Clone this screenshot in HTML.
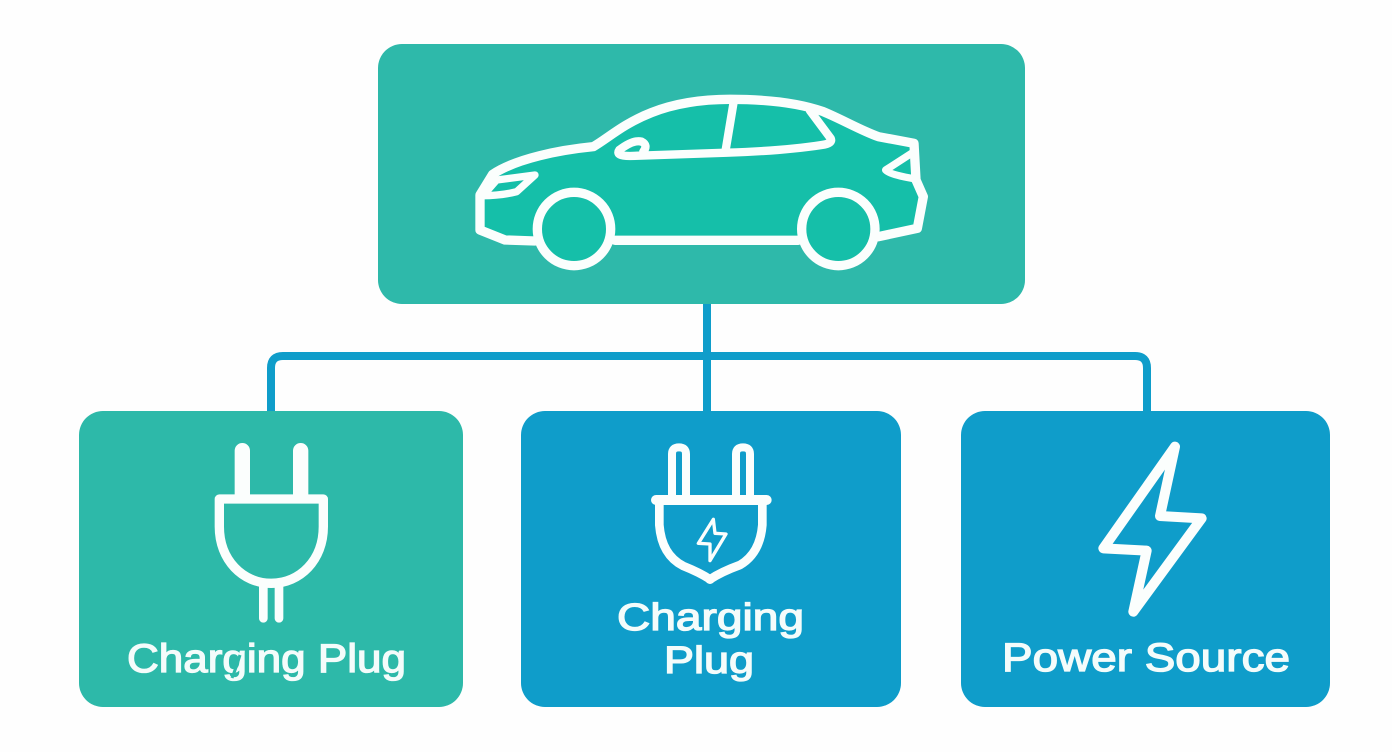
<!DOCTYPE html>
<html><head><meta charset="utf-8"><title>EV charging diagram</title>
<style>html,body{margin:0;padding:0;background:#fefefe}svg{display:block}text{font-family:"Liberation Sans",sans-serif;font-weight:400;fill:#f4fcfb;stroke:#f4fcfb;stroke-width:1.3px}</style>
</head><body>
<svg width="1392" height="752" viewBox="0 0 1392 752" xmlns="http://www.w3.org/2000/svg">
<rect width="1392" height="752" fill="#fefefe"/>
<g fill="none" stroke="#0f9dca" stroke-width="8">
<path d="M707 304V411"/>
<path d="M271 411V368Q271 356 283 356H1135Q1147 356 1147 368V411"/>
</g>
<rect x="378" y="44" width="647" height="260" rx="24" fill="#2eb9aa"/>
<rect x="79" y="411" width="384" height="296" rx="24" fill="#2db9a9"/>
<rect x="521" y="411" width="380" height="296" rx="24" fill="#0f9dca"/>
<rect x="961" y="411" width="369" height="296" rx="24" fill="#0f9dca"/>

<g transform="translate(460 80) scale(.33333)" fill="none" stroke="#fbfefd" stroke-width="28" stroke-linejoin="round" stroke-linecap="round">
<path fill="#15bfa9" d="M225 483L135 480L60 450V345L98 283C170 235 300 210 400 200C470 160 560 58 810 58C930 58 1020 70 1090 95C1150 120 1200 150 1255 170L1362 190L1368 300L1390 350L1372 445L1255 470"/>
<path d="M465 481H1015"/>
<circle cx="342" cy="447" r="110" fill="#15bfa9"/>
<circle cx="1135" cy="447" r="110" fill="#15bfa9"/>
<path d="M822 60L797 210" stroke-width="25"/>
<path d="M1050 92L1112 175Q1120 190 1085 195C1000 208 900 215 800 218L510 228Q465 228 478 210Q520 178 545 185Q565 195 550 215" stroke-width="25"/>
<path d="M60 347Q120 348 170 335L225 285L110 300L75 340" stroke-width="22"/>
<path d="M1362 215L1277 270Q1290 285 1368 297" stroke-width="22"/>
</g>

<g transform="translate(110 430) scale(.33333)" fill="none" stroke="#fbfefd" stroke-linecap="round" stroke-linejoin="round">
<path d="M397 195V62M572 195V62" stroke-width="46"/>
<path d="M328 207H640V290C640 390 570 460 484 460C398 460 328 390 328 290Z" stroke-width="28"/>
<path d="M460 465V565M507 465V565" stroke-width="26"/>
</g>
<text x="127" y="672" font-size="40" textLength="279" lengthAdjust="spacingAndGlyphs">Charging Plug</text>
<path d="M240 655Q236 668 232 678" fill="none" stroke="#2db9a9" stroke-width="3"/>

<g transform="translate(600 430) scale(.33333)" fill="none" stroke="#fbfefd" stroke-linecap="round" stroke-linejoin="round">
<path d="M216 195V72Q216 52 237 52Q258 52 258 72V195M408 195V72Q408 52 429 52Q450 52 450 72V195" stroke-width="24"/>
<path d="M168 210H500" stroke-width="30"/>
<path d="M178 225V285Q185 375 250 408Q300 428 330 448Q365 425 420 405Q480 370 487 285V225" stroke-width="26"/>
<circle cx="330" cy="448" r="14" fill="#fbfefd" stroke="none"/>
<path d="M340 268L295 340L330 342L330 392L378 312L345 310Z" stroke-width="10"/>
</g>
<text x="617" y="630" font-size="38" textLength="187" lengthAdjust="spacingAndGlyphs">Charging</text>
<text x="664" y="673" font-size="38" textLength="90" lengthAdjust="spacingAndGlyphs">Plug</text>

<g transform="translate(990 430) scale(.33333)" fill="none" stroke="#fbfefd" stroke-width="30" stroke-linejoin="round">
<path d="M555 50L340 355L470 362L430 545L635 265L510 258Z"/>
</g>
<text x="1002" y="671" font-size="40" textLength="288" lengthAdjust="spacingAndGlyphs">Power Source</text>
</svg>
</body></html>
